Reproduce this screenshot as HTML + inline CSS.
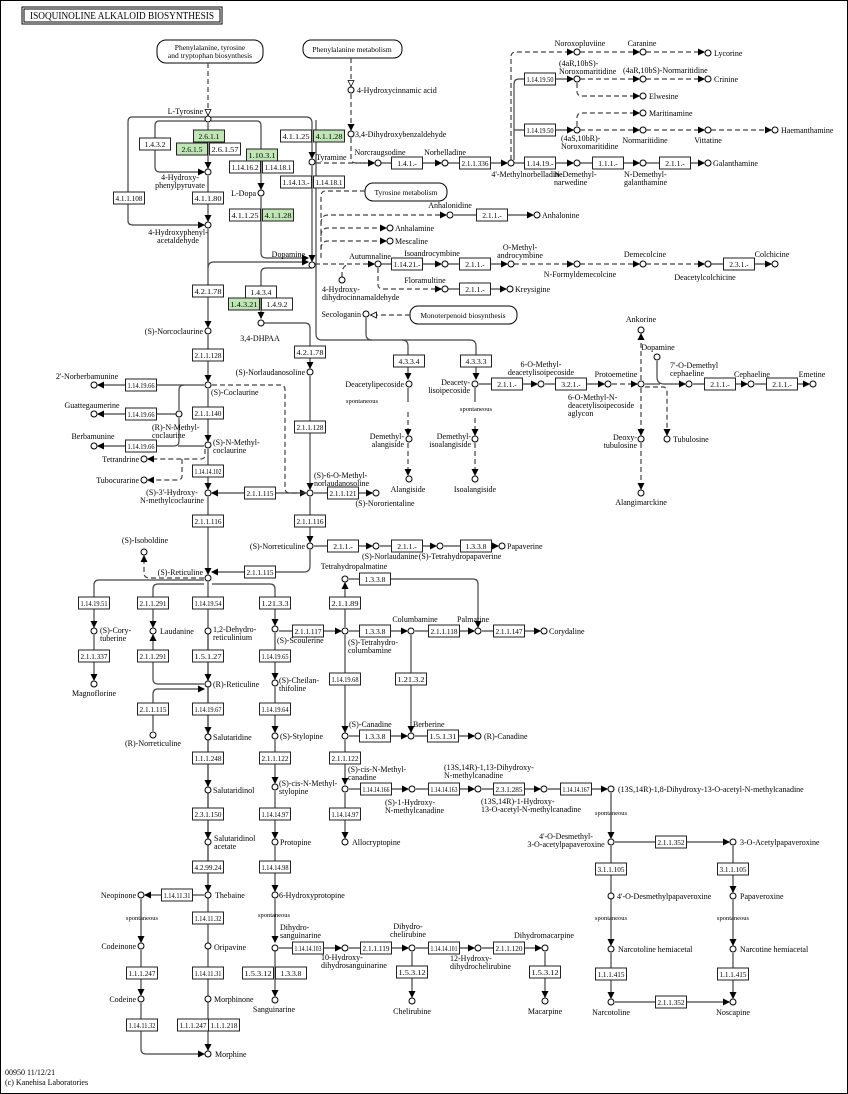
<!DOCTYPE html>
<html><head><meta charset="utf-8"><style>
html,body{margin:0;padding:0;background:#fff}
svg{display:block}
text{font-family:"Liberation Serif",serif;font-size:8px;fill:#000}
.bx text{font-size:7.6px}
</style></head><body>
<svg id="s" width="848" height="1094" viewBox="0 0 848 1094" xmlns="http://www.w3.org/2000/svg">
<defs>
<marker id="a" markerWidth="7" markerHeight="7" refX="6" refY="3.5" orient="auto" markerUnits="userSpaceOnUse"><path d="M0,0 L7,3.5 L0,7 z" fill="#000"/></marker>
<marker id="o" markerWidth="7" markerHeight="7" refX="6" refY="3.5" orient="auto" markerUnits="userSpaceOnUse"><path d="M0.5,0.5 L6.5,3.5 L0.5,6.5 z" fill="#fff" stroke="#000" stroke-width="0.8"/></marker>
</defs>
<rect x="0.5" y="0.5" width="847" height="1093" fill="#fff" stroke="#000" stroke-width="1"/>
<rect x="22" y="7" width="200" height="17" fill="#fff" stroke="#000" stroke-width="1"/>
<rect x="24" y="9" width="196" height="13" fill="none" stroke="#000" stroke-width="1"/>
<text x="30" y="19" style="font-size:10px" textLength="184" lengthAdjust="spacingAndGlyphs">ISOQUINOLINE ALKALOID BIOSYNTHESIS</text>
<rect x="157" y="40" width="106" height="23" rx="9" fill="#fff" stroke="#000"/>
<text x="210" y="50" text-anchor="middle" style="font-size:7.5px">Phenylalanine, tyrosine</text>
<text x="210" y="58" text-anchor="middle" style="font-size:7.5px">and tryptophan biosynthesis</text>
<rect x="303" y="40" width="99" height="18" rx="8" fill="#fff" stroke="#000"/>
<text x="352" y="52" text-anchor="middle" style="font-size:7.5px">Phenylalanine metabolism</text>
<rect x="365" y="183" width="82" height="18" rx="8" fill="#fff" stroke="#000"/>
<text x="406" y="195" text-anchor="middle" style="font-size:7.5px">Tyrosine metabolism</text>
<rect x="410" y="306" width="107" height="18" rx="8" fill="#fff" stroke="#000"/>
<text x="463" y="318" text-anchor="middle" style="font-size:7.5px">Monoterpenoid biosynthesis</text>
<g id="L" fill="none" stroke="#444" stroke-width="1.2"></g>
<g id="B" class="bx"></g>
<g id="C"></g>
<g id="T"></g>
<text x="5" y="1075" style="font-size:8px">00950 11/12/21</text>
<text x="5" y="1085" style="font-size:8px">(c) Kanehisa Laboratories</text>
</svg>
<script>
var NS="http://www.w3.org/2000/svg";
function el(p,n,a,t){var e=document.createElementNS(NS,n);for(var k in a)e.setAttribute(k,a[k]);if(t!=null)e.textContent=t;document.getElementById(p).appendChild(e);return e;}
var L=[
["M208,63 V115",1,"o"],["M351,58 V86",1,"o"],["M351,94 V130",1,"a"],["M351,138 V158 Q351,163 356,163 H374",1,"a"],
["M208,123 V168",0,"a"],["M208,176 V221",0,"a"],["M208,229 V327",0,"a"],["M208,335 V381",0,"a"],["M208,389 V441",0,"a"],["M208,449 V489",0,"a"],["M208,497 V574",0,"a"],["M208,582 V1050",0,"a"],
["M211,117 H306 Q312,117 312,123 V158",0,"a"],["M312,166 V261",0,"a"],["M316,120 V334 Q316,340 322,340 H470 Q476,340 476,346 V379",0,"a"],["M402,340 Q408,340 408,346 V379",0,"a"],["M366,318 V334 Q366,340 372,340",0,""],
["M205,117 H132 Q128,117 128,122 V221 Q128,225 133,225 H204",0,"a"],["M205,121 H159 Q155,121 155,126 V167 Q155,172 160,172 H204",0,"a"],
["M211,121 H257 Q261,121 261,126 V189",0,"a"],["M261,197 V253 Q261,258 266,258 H308",0,"a"],["M208,268 Q208,262 214,262 H308",0,"a"],
["M312,268 H266 Q261,268 261,273 V318",0,"a"],["M264,323 H305 Q310,323 310,328 V368",0,"a"],
["M410,315 H371",1,"o"],["M365,191 H326 Q321,191 321,196 V260",1,""],
["M321,224 Q321,215 328,215 H446",1,"a"],["M321,236 Q321,228 328,228 H386",1,"a"],["M321,249 Q321,241 328,241 H386",1,"a"],
["M316,163 H374",1,"a"],["M381,163 H441",0,"a"],["M448,163 H507",0,"a"],["M514,163 H573",0,"a"],["M580,163 H639",0,"a"],["M646,163 H704",0,"a"],
["M511,160 V57 Q511,52 516,52 H573",1,"a"],["M514,160 V84 Q514,79 519,79 H573",0,"a"],["M514,130 H573",0,"a"],
["M580,52 H639",1,"a"],["M646,52 H704",1,"a"],["M580,79 H639",1,"a"],["M646,79 H704",1,"a"],["M577,83 V91 Q577,96 582,96 H639",1,"a"],["M577,126 V118 Q577,113 582,113 H639",1,"a"],["M580,130 H639",1,"a"],["M646,130 H704",1,"a"],["M711,130 H771",1,"a"],
["M454,215 H533",0,"a"],
["M315,264 H374",1,"a"],["M381,264 H441",0,"a"],["M448,264 H507",0,"a"],["M514,264 H573",1,"a"],["M580,264 H639",1,"a"],["M646,264 H704",1,"a"],["M711,264 H771",0,"a"],
["M378,268 V284 Q378,289 383,289 H441",1,"a"],["M448,289 H506",0,"a"],["M342,277 V271 Q344,265 349,264",1,""],
["M310,376 V489",0,"a"],["M310,497 V542",0,"a"],["M310,550 V566 Q310,572 304,572 H212",0,"a"],
["M204,385 H98",0,"a"],["M184,385 Q179,385 179,390 V410",0,""],["M176,414 H98",0,"a"],["M179,418 V441 Q179,446 174,446 H98",0,"a"],["M204,446 H178",0,""],
["M212,385 H280 Q285,385 285,390 V488 Q285,493 290,493 H306",1,"a"],
["M205,449 V455 Q205,459 200,459 H148",1,"a"],["M182,459 V476 Q182,480 177,480 H148",1,"a"],
["M306,493 H212",0,"a"],["M314,493 H372",0,"a"],["M314,546 H372",0,"a"],["M380,546 H436",0,"a"],["M444,546 H498",0,"a"],
["M204,578 H150 Q144,578 144,573 V556",1,"a"],
["M204,580 H99 Q94,580 94,585 V627",0,"a"],["M204,584 H158 Q153,584 153,589 V627",0,"a"],["M212,584 H270 Q275,584 275,589 V625",0,"a"],
["M208,635 V680",0,"a"],["M208,688 V733",0,"a"],["M208,741 V786",0,"a"],["M208,794 V838",0,"a"],["M208,846 V891",0,"a"],
["M94,635 V680",0,"a"],["M204,684 H158 Q153,684 153,679 V635",0,"a"],["M153,731 V694 Q153,689 158,689 H204",0,"a"],
["M275,633 V679",0,"a"],["M275,687 V732",0,"a"],["M275,740 V783",0,"a"],["M275,791 V838",0,"a"],["M275,846 V891",0,"a"],["M275,899 V942",0,"a"],["M275,950 V996",0,"a"],
["M279,631 H341",0,"a"],["M349,631 H407",0,"a"],["M415,631 H474",0,"a"],["M482,631 H540",0,"a"],
["M345,627 V583",0,"a"],["M349,579 H473 Q478,579 478,584 V627",0,"a"],
["M345,635 V732",0,"a"],["M345,740 V784",0,"a"],["M345,793 V838",0,"a"],["M411,635 V732",0,"a"],
["M349,736 H407",0,"a"],["M415,736 H474",0,"a"],
["M349,789 H408",0,"a"],["M416,789 H474",0,"a"],["M482,789 H540",0,"a"],["M548,789 H607",0,"a"],
["M611,793 V838",0,"a"],["M611,846 V945",0,"a"],["M611,953 V998",0,"a"],["M733,846 V892",0,"a"],["M733,900 V945",0,"a"],["M733,953 V998",0,"a"],
["M615,842 H729",0,"a"],["M615,1002 H729",0,"a"],
["M279,948 H341",0,"a"],["M349,948 H408",0,"a"],["M416,948 H474",0,"a"],["M482,948 H541",0,"a"],
["M412,952 V997",0,"a"],["M545,952 V997",0,"a"],
["M204,895 H145",0,"a"],["M141,899 V942",0,"a"],["M141,950 V995",0,"a"],["M141,1003 V1049 Q141,1054 146,1054 H204",0,"a"],
["M479,384 H537",0,"a"],["M545,384 H604",0,"a"],["M612,384 H637",1,"a"],["M641,380 V334",1,"a"],["M641,388 V435",1,"a"],["M641,443 V489",1,"a"],
["M645,387 H663 Q667,387 667,392 V435",1,"a"],["M657,361 V377 Q657,384 664,384 H685",0,"a"],["M645,384 H660",0,""],["M693,384 H747",0,"a"],["M755,384 H809",0,"a"],
["M408,388 V402",0,""],["M408,412 V435",1,"a"],["M408,443 V475",1,"a"],["M475,388 V402",0,""],["M475,418 V435",1,"a"],["M475,443 V475",1,"a"]
];
L.forEach(function(l){var a={d:l[0]};if(l[1])a["stroke-dasharray"]="5,3";if(l[2])a["marker-end"]="url(#"+l[2]+")";el("L","path",a);});
var B=[
[209,136,"2.6.1.1",1],[192,149,"2.6.1.5",1],[225,149,"2.6.1.57"],[155,144,"1.4.3.2"],[262,155,"1.10.3.1",1],[245,167,"1.14.16.2"],[278,167,"1.14.18.1"],
[208,198,"4.1.1.80"],[129,198,"4.1.1.108"],[245,215,"4.1.1.25"],[278,215,"4.1.1.28",1],[296,136,"4.1.1.25"],[329,136,"4.1.1.28",1],[296,182,"1.14.13.-"],[329,182,"1.14.18.1"],
[407,163,"1.4.1.-"],[475,163,"2.1.1.336"],[540,79,"1.14.19.50"],[540,130,"1.14.19.50"],[540,163,"1.14.19.-"],[608,163,"1.1.1.-"],[675,163,"2.1.1.-"],
[492,215,"2.1.1.-"],[407,264,"1.14.21.-"],[475,264,"2.1.1.-"],[739,264,"2.3.1.-"],[475,289,"2.1.1.-"],
[208,291,"4.2.1.78"],[261,292,"1.4.3.4"],[244,304,"1.4.3.21",1],[277,304,"1.4.9.2"],[310,352,"4.2.1.78"],[409,361,"4.3.3.4"],[476,361,"4.3.3.3"],
[507,384,"2.1.1.-"],[571,384,"3.2.1.-"],[720,384,"2.1.1.-"],[782,384,"2.1.1.-"],
[208,355,"2.1.1.128"],[141,385,"1.14.19.66"],[141,414,"1.14.19.66"],[141,446,"1.14.19.66"],[208,413,"2.1.1.140"],[310,427,"2.1.1.128"],[208,471,"1.14.14.102"],
[260,493,"2.1.1.115"],[343,493,"2.1.1.121"],[208,521,"2.1.1.116"],[310,521,"2.1.1.116"],[343,546,"2.1.1.-"],[407,546,"2.1.1.-"],[476,546,"1.3.3.8"],[260,572,"2.1.1.115"],
[375,579,"1.3.3.8"],[94,603,"1.14.19.51"],[153,603,"2.1.1.291"],[208,603,"1.14.19.54"],[275,603,"1.21.3.3"],[345,603,"2.1.1.89"],
[308,631,"2.1.1.117"],[375,631,"1.3.3.8"],[444,631,"2.1.1.118"],[509,631,"2.1.1.147"],
[94,656,"2.1.1.337"],[153,656,"2.1.1.291"],[208,656,"1.5.1.27"],[275,656,"1.14.19.65"],[345,679,"1.14.19.68"],[411,679,"1.21.3.2"],
[153,709,"2.1.1.115"],[208,709,"1.14.19.67"],[275,709,"1.14.19.64"],[375,736,"1.3.3.8"],[443,736,"1.5.1.31"],
[208,758,"1.1.1.248"],[275,758,"2.1.1.122"],[345,758,"2.1.1.122"],[376,789,"1.14.14.166"],[444,789,"1.14.14.163"],[509,789,"2.3.1.285"],[576,789,"1.14.14.167"],
[208,814,"2.3.1.150"],[275,814,"1.14.14.97"],[345,814,"1.14.14.97"],[671,842,"2.1.1.352"],[208,867,"4.2.99.24"],[275,867,"1.14.14.98"],[611,869,"3.1.1.105"],[733,869,"3.1.1.105"],
[177,895,"1.14.11.31"],[208,918,"1.14.11.32"],[308,948,"1.14.14.103"],[376,948,"2.1.1.119"],[444,948,"1.14.14.101"],[509,948,"2.1.1.120"],
[142,973,"1.1.1.247"],[208,973,"1.14.11.31"],[258,973,"1.5.3.12"],[291,973,"1.3.3.8"],[412,972,"1.5.3.12"],[545,972,"1.5.3.12"],[611,974,"1.1.1.415"],[733,974,"1.1.1.415"],
[671,1002,"2.1.1.352"],[142,1025,"1.14.11.32"],[193,1025,"1.1.1.247"],[224,1025,"1.1.1.218"]
];
B.forEach(function(b){el("B","rect",{x:b[0]-15.5,y:b[1]-6,width:31,height:12,fill:b[3]?"#bfe6b4":"#fff",stroke:"#222","stroke-width":1});
var a={x:b[0],y:b[1]+3,"text-anchor":"middle"};if(b[2].length>7){a.textLength=27;a.lengthAdjust="spacingAndGlyphs";}el("B","text",a,b[2]);});
var C=[[208,119],[208,172],[208,225],[208,331],[208,385],[208,445],[208,493],[208,578],[261,193],[312,162],[312,265],[351,90],[351,134],
[378,163],[445,163],[511,163],[577,163],[643,163],[708,163],[577,52],[643,52],[708,53],[577,79],[643,79],[708,79],[643,96],[643,113],[577,130],[643,130],[708,130],[775,130],
[450,215],[537,215],[390,228],[390,241],[378,264],[445,264],[511,264],[577,264],[643,264],[708,264],[775,264],[445,289],[510,289],[342,280],[366,314],[261,323],
[310,372],[409,384],[475,384],[541,384],[608,384],[641,384],[641,330],[641,439],[641,493],[667,439],[657,357],[689,384],[751,384],[813,384],[409,439],[409,479],[475,439],[475,479],
[94,385],[94,414],[94,446],[179,414],[144,459],[144,480],[310,493],[376,493],[310,546],[376,546],[440,546],[502,546],[144,552],
[94,631],[153,631],[208,631],[275,629],[345,579],[345,631],[411,631],[478,631],[544,631],[94,684],[208,684],[153,735],[275,683],[208,737],[275,736],[345,736],[411,736],[478,736],
[208,790],[275,787],[345,789],[412,789],[478,789],[544,789],[611,789],[208,842],[275,842],[345,842],[611,842],[733,842],[208,895],[141,895],[275,895],[611,896],[733,896],
[141,946],[208,946],[275,948],[345,948],[412,948],[478,948],[545,948],[611,949],[733,949],[141,999],[208,999],[275,1000],[412,1001],[545,1001],[611,1002],[733,1002],[208,1054]
];
C.forEach(function(c){el("C","circle",{cx:c[0],cy:c[1],r:3,fill:"#fff",stroke:"#000","stroke-width":1});});
var T=[
[203,114,"L-Tyrosine","e"],[357,93,"4-Hydroxycinnamic acid","s"],[355,137,"3,4-Dihydroxybenzaldehyde","s"],[316,160,"Tyramine","s"],[380,155,"Norcraugsodine","m"],[445,155,"Norbelladine","m"],
[527,177,"4'-Methylnorbelladine","m"],[554,177,"N-Demethyl-|narwedine","s"],[624,177,"N-Demethyl-|galanthamine","s"],[713,166,"Galanthamine","s"],
[580,46,"Noroxopluviine","m"],[642,46,"Caranine","m"],[714,56,"Lycorine","s"],[559,66,"(4aR,10bS)-|Noroxomaritidine","s"],[623,73,"(4aR,10bS)-Normaritidine","s"],[714,82,"Crinine","s"],
[649,99,"Elwesine","s"],[649,116,"Maritinamine","s"],[561,141,"(4aS,10bR)-|Noroxomaritidine","s"],[645,143,"Normaritidine","m"],[708,143,"Vittatine","m"],[781,133,"Haemanthamine","s"],
[180,180,"4-Hydroxy-|phenylpyruvate","m"],[178,235,"4-Hydroxyphenyl-|acetaldehyde","m"],[256,196,"L-Dopa","e"],[305,257,"Dopamine","e"],
[450,208,"Anhalonidine","m"],[542,218,"Anhalonine","s"],[395,231,"Anhalamine","s"],[395,244,"Mescaline","s"],
[370,259,"Autumnaline","m"],[432,256,"Isoandrocymbine","m"],[520,250,"O-Methyl-|androcymbine","m"],[580,277,"N-Formyldemecolcine","m"],[645,257,"Demecolcine","m"],[705,280,"Deacetylcolchicine","m"],[772,257,"Colchicine","m"],
[425,283,"Floramultine","m"],[515,292,"Kreysigine","s"],[322,292,"4-Hydroxy-|dihydrocinnamaldehyde","s"],[361,317,"Secologanin","e"],[260,341,"3,4-DHPAA","m"],[203,334,"(S)-Norcoclaurine","e"],
[305,375,"(S)-Norlaudanosoline","e"],[404,387,"Deacetylipecoside","e"],[362,403,"spontaneous","m",1],[470,385,"Deacety-|lisoipecoside","e"],[476,411,"spontaneous","m",1],
[541,367,"6-O-Methyl-|deacetylisoipecoside","m"],[616,377,"Protoemetine","m"],[568,400,"6-O-Methyl-N-|deacetylisoipecoside|aglycon","s"],[641,322,"Ankorine","m"],[658,350,"Dopamine","m"],
[670,368,"7'-O-Demethyl|cephaeline","s"],[752,377,"Cephaeline","m"],[812,377,"Emetine","m"],
[404,439,"Demethyl-|alangiside","e"],[471,439,"Demethyl-|isoalangiside","e"],[408,492,"Alangiside","m"],[475,492,"Isoalangiside","m"],[637,440,"Deoxy-|tubulosine","e"],[673,442,"Tubulosine","s"],[641,505,"Alangimarckine","m"],
[87,379,"2'-Norberbamunine","m"],[92,408,"Guattegaumerine","m"],[93,439,"Berbamunine","m"],[211,395,"(S)-Coclaurine","s"],[152,430,"(R)-N-Methyl-|coclaurine","s"],[213,445,"(S)-N-Methyl-|coclaurine","s"],
[139,462,"Tetrandrine","e"],[139,483,"Tubocurarine","e"],[172,495,"(S)-3'-Hydroxy-|N-methylcoclaurine","m"],[314,478,"(S)-6-O-Methyl-|norlaudanosoline","s"],[385,506,"(S)-Nororientaline","m"],
[305,549,"(S)-Norreticuline","e"],[390,559,"(S)-Norlaudanine","m"],[460,559,"(S)-Tetrahydropapaverine","m"],[507,549,"Papaverine","s"],
[145,543,"(S)-Isoboldine","m"],[203,575,"(S)-Reticuline","e"],[354,569,"Tetrahydropalmatine","m"],
[100,633,"(S)-Cory-|tuberine","s"],[160,634,"Laudanine","s"],[213,632,"1,2-Dehydro-|reticulinium","s"],[277,643,"(S)-Scoulerine","s"],[415,622,"Columbamine","m"],[473,622,"Palmatine","m"],[549,634,"Corydaline","s"],
[348,645,"(S)-Tetrahydro-|columbamine","s"],[94,696,"Magnoflorine","m"],[213,687,"(R)-Reticuline","s"],[279,683,"(S)-Cheilan-|thifoline","s"],[153,746,"(R)-Norreticuline","m"],
[213,740,"Salutaridine","s"],[280,739,"(S)-Stylopine","s"],[349,727,"(S)-Canadine","s"],[413,727,"Berberine","s"],[484,739,"(R)-Canadine","s"],
[348,772,"(S)-cis-N-Methyl-|canadine","s"],[279,786,"(S)-cis-N-Methyl-|stylopine","s"],[444,770,"(13S,14R)-1,13-Dihydroxy-|N-methylcanadine","s"],[385,805,"(S)-1-Hydroxy-|N-methylcanadine","s"],
[481,804,"(13S,14R)-1-Hydroxy-|13-O-acetyl-N-methylcanadine","s"],[618,792,"(13S,14R)-1,8-Dihydroxy-13-O-acetyl-N-methylcanadine","s"],[213,793,"Salutaridinol","s"],
[352,845,"Allocryptopine","s"],[280,845,"Protopine","s"],[611,815,"spontaneous","m",1],[566,839,"4'-O-Desmethyl-|3-O-acetylpapaveroxine","m"],[740,845,"3-O-Acetylpapaveroxine","s"],[214,841,"Salutaridinol|acetate","s"],
[617,899,"4'-O-Desmethylpapaveroxine","s"],[740,899,"Papaveroxine","s"],[215,898,"Thebaine","s"],[136,898,"Neopinone","e"],[279,898,"6-Hydroxyprotopine","s"],
[142,920,"spontaneous","m",1],[274,917,"spontaneous","m",1],[611,920,"spontaneous","m",1],[733,920,"spontaneous","m",1],
[280,930,"Dihydro-|sanguinarine","s"],[408,929,"Dihydro-|chelirubine","m"],[544,938,"Dihydromacarpine","m"],[321,960,"10-Hydroxy-|dihydrosanguinarine","s"],[450,961,"12-Hydroxy-|dihydrochelirubine","s"],
[618,952,"Narcotoline hemiacetal","s"],[740,952,"Narcotine hemiacetal","s"],[136,949,"Codeinone","e"],[214,950,"Oripavine","s"],
[274,1012,"Sanguinarine","m"],[412,1014,"Chelirubine","m"],[545,1014,"Macarpine","m"],[611,1015,"Narcotoline","m"],[733,1015,"Noscapine","m"],
[136,1002,"Codeine","e"],[214,1002,"Morphinone","s"],[215,1057,"Morphine","s"]
];
var anc={s:"start",m:"middle",e:"end"};
T.forEach(function(t){var ls=t[2].split("|");ls.forEach(function(s,i){var a={x:t[0],y:t[1]+i*8,"text-anchor":anc[t[3]]};if(t[4])a.style="font-size:6.5px";el("T","text",a,s);});});
</script>
</body></html>
